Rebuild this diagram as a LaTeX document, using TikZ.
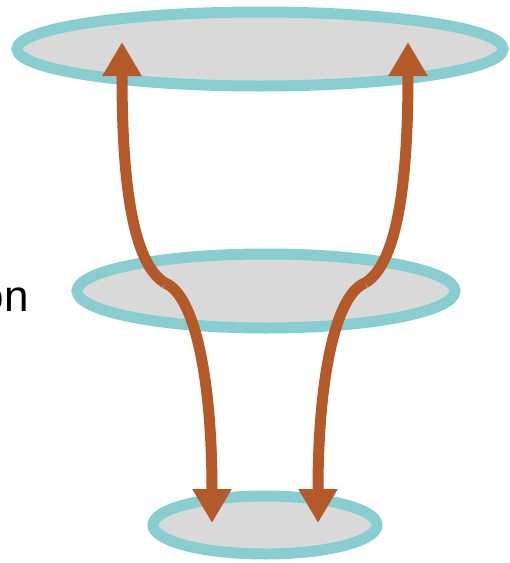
\documentclass[tikz,border=0pt]{standalone}
\usepackage{fontspec}
\setmainfont{Liberation Sans}
\usetikzlibrary{arrows.meta}
\definecolor{ringteal}{RGB}{136,206,208}
\definecolor{ringfill}{RGB}{217,217,217}
\definecolor{arrowbrown}{RGB}{180,90,42}
\begin{document}
\begin{tikzpicture}[x=1pt,y=-1pt,
  ring/.style={draw=ringteal,fill=ringfill,line width=11pt},
  link/.style={draw=arrowbrown,line width=11pt,
    -{Triangle[width=37pt,length=34pt,fill=arrowbrown]}},
  lbl/.style={inner sep=0pt,anchor=base east,font=\fontsize{44}{48}\selectfont}]
\useasboundingbox (0,0) rectangle (510,563);
\draw[ring] (260,49) ellipse [x radius=243, y radius=37];
\draw[ring] (266,291) ellipse [x radius=189, y radius=37];
\draw[ring] (265,525) ellipse [x radius=112, y radius=29];
\node[lbl] (txt) at (29,311) {on};
\coordinate (ml) at (165,283);
\coordinate (mr) at (365,283);
\coordinate (tl) at (122,42);
\coordinate (tr) at (408,42);
\coordinate (bl) at (212,523);
\coordinate (br) at (318,523);
\draw[link] (ml) .. controls (130,262) and (122,170) .. (tl);
\draw[link] (ml) .. controls (195,295) and (212,380) .. (bl);
\draw[link] (mr) .. controls (400,262) and (408,170) .. (tr);
\draw[link] (mr) .. controls (335,295) and (318,380) .. (br);
\end{tikzpicture}
\end{document}
